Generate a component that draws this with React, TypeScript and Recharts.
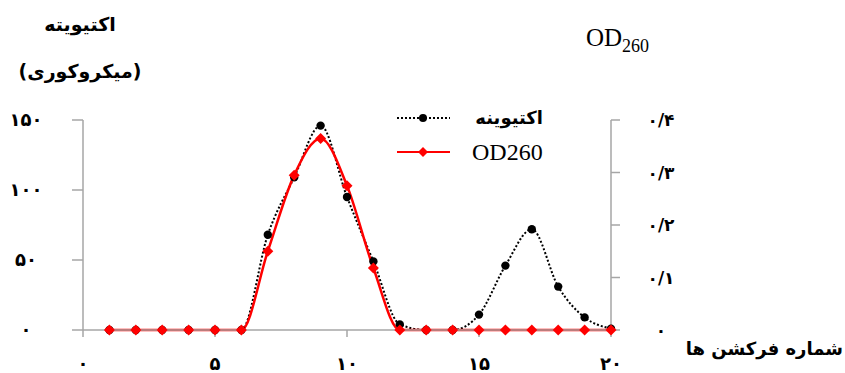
import { ComposedChart, Line, XAxis, YAxis } from "recharts";

const fractions = [1, 2, 3, 4, 5, 6, 7, 8, 9, 10, 11, 12, 13, 14, 15, 16, 17, 18, 19, 20];
const activity = [0, 0, 0, 0, 0, 0, 68, 109, 146, 95, 49, 4, 0, 0, 11, 46, 72, 31, 9, 1];
const od260 = [0, 0, 0, 0, 0, 0, 0.15, 0.295, 0.365, 0.275, 0.118, 0, 0, 0, 0, 0, 0, 0, 0, 0];

const xTicks = [0, 5, 10, 15, 20];
const leftTicks = [0, 50, 100, 150];
const rightTicks = [0, 0.1, 0.2, 0.3, 0.4];

const activityName = "اکتیوینه";
const odName = "OD260";

const data = fractions.map((f, i) => ({ f, activity: activity[i], od: od260[i] }));

const FA = "۰۱۲۳۴۵۶۷۸۹";
const fa = (s: string) => s.replace(/[0-9]/g, (d) => FA[Number(d)]);
const faDec = (v: number) => (v === 0 ? "۰" : fa(v.toFixed(1)).replace(".", "/"));

const AXIS = "#a6a6a6";
const FONT = "'DejaVu Sans', sans-serif";
const SERIF = "'Liberation Serif', serif";

const Diamond = ({ cx, cy }: any) =>
  cx == null ? null : (
    <polygon points={`${cx},${cy - 5.5} ${cx + 5.5},${cy} ${cx},${cy + 5.5} ${cx - 5.5},${cy}`} fill="#ff0000" />
  );

const Dot = ({ cx, cy }: any) => (cx == null ? null : <circle cx={cx} cy={cy} r={4.2} fill="#000" />);

const LeftTick = ({ x, y, payload }: any) => (
  <text x={x} y={y} dy={6} textAnchor="middle" fontSize={18} fontWeight="bold" fontFamily={FONT} fill="#000">
    {fa(String(payload.value))}
  </text>
);

const RightTick = ({ x, y, payload }: any) => (
  <text x={x} y={y} dy={6} textAnchor="middle" fontSize={17} fontWeight="bold" fontFamily={FONT} fill="#000">
    {faDec(payload.value)}
  </text>
);

const BottomTick = ({ x, y, payload }: any) => (
  <text x={x} y={y} dy={31} textAnchor="middle" fontSize={18} fontWeight="bold" fontFamily={FONT} fill="#000">
    {fa(String(payload.value))}
  </text>
);

// legend drawn as an overlay so it doesn't shift the plot area
const LegendBox = () => (
  <svg width={200} height={76} style={{ position: "absolute", left: 390, top: 98 }}>
    <line x1={7} y1={20} x2={60} y2={20} stroke="#000" strokeWidth={2} strokeDasharray="2 2" />
    <circle cx={33} cy={20} r={4} fill="#000" />
    <text x={153} y={26} textAnchor="end" fontSize={18} fontWeight="bold" fontFamily={FONT} fill="#000">
      {activityName}
    </text>
    <line x1={7} y1={54} x2={60} y2={54} stroke="#ff0000" strokeWidth={2} />
    <polygon points="33,49 38,54 33,59 28,54" fill="#ff0000" />
    <text x={82} y={62} fontSize={24} fontFamily={SERIF} fill="#000">
      {odName}
    </text>
  </svg>
);

export default function App() {
  return (
    <div style={{ position: "absolute", left: 0, top: 0, width: 845, height: 373, background: "#fff", overflow: "hidden" }}>
      <ComposedChart width={845} height={373} data={data} margin={{ top: 120, right: 0, bottom: 0, left: 0 }}>
        <XAxis
          dataKey="f"
          type="number"
          domain={[0, 20]}
          ticks={xTicks}
          height={43}
          stroke={AXIS}
          strokeWidth={1.5}
          tickSize={7}
          tick={<BottomTick />}
          interval={0}
        />
        <YAxis
          yAxisId="left"
          domain={[0, 150]}
          ticks={leftTicks}
          width={83}
          stroke={AXIS}
          strokeWidth={1.5}
          tickSize={11}
          tickMargin={46}
          tick={<LeftTick />}
          interval={0}
        />
        <YAxis
          yAxisId="right"
          orientation="right"
          domain={[0, 0.4]}
          ticks={rightTicks}
          width={234}
          stroke={AXIS}
          strokeWidth={1.5}
          tickSize={9}
          tickMargin={41}
          tick={<RightTick />}
          interval={0}
        />
        <Line
          yAxisId="left"
          type="monotone"
          dataKey="activity"
          name={activityName}
          stroke="#000"
          strokeWidth={2}
          strokeDasharray="2 2"
          dot={<Dot />}
          activeDot={false}
          isAnimationActive={false}
        />
        <Line
          yAxisId="right"
          type="monotone"
          dataKey="od"
          name={odName}
          stroke="#ff0000"
          strokeWidth={2.5}
          dot={<Diamond />}
          activeDot={false}
          isAnimationActive={false}
        />
      </ComposedChart>
      <LegendBox />
      <div
        style={{
          position: "absolute",
          left: 0,
          top: 1,
          width: 160,
          textAlign: "center",
          fontFamily: FONT,
          fontWeight: "bold",
          fontSize: 19,
          lineHeight: "47px",
          direction: "rtl",
        }}
      >
        <div>اکتیویته</div>
        <div>(میکروکوری)</div>
      </div>
      <div style={{ position: "absolute", left: 586, top: 24, fontFamily: SERIF, fontSize: 25, color: "#000", whiteSpace: "nowrap" }}>
        OD<sub style={{ fontSize: 18, verticalAlign: "-6px" }}>260</sub>
      </div>
      <div
        style={{
          position: "absolute",
          right: 2,
          top: 338,
          textAlign: "right",
          fontFamily: FONT,
          fontWeight: "bold",
          fontSize: 18,
          direction: "rtl",
          whiteSpace: "nowrap",
        }}
      >
        شماره فرکشن ها
      </div>
    </div>
  );
}
